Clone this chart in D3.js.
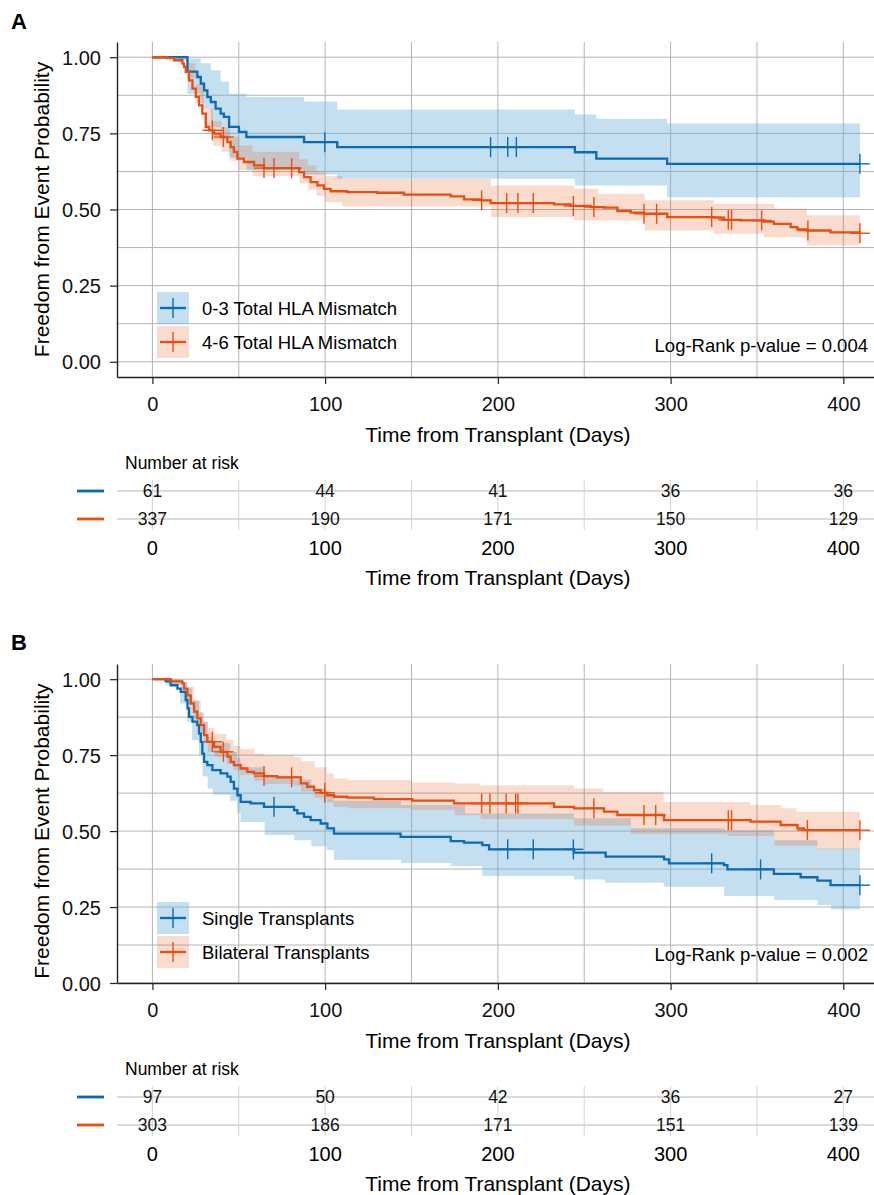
<!DOCTYPE html>
<html>
<head>
<meta charset="utf-8">
<script src="https://cdn.jsdelivr.net/npm/d3@7"></script>
<style>
body { margin: 0; background: #fff; }
svg { display: block; font-family: "Liberation Sans", Arial, Helvetica, sans-serif; }
</style>
</head>
<body>
<svg id="gfx" width="874" height="1195"></svg>
<script>
// ---- shared ticks ----
var timeTicks = [0, 100, 200, 300, 400];
var probTicks = [0, 0.25, 0.5, 0.75, 1];

// ---- panel A: HLA mismatch ----
var hlaNames = ["0-3 Total HLA Mismatch", "4-6 Total HLA Mismatch"];

var hlaLowTimes = [0, 20.3, 26, 28, 29.9, 31.8, 33.8, 36.6, 39.5, 41.4, 44.4, 50.1, 54.4, 87.8, 107, 244.6, 257, 298, 409.6];
var hlaLowSurv  = [1, 0.953, 0.935, 0.913, 0.891, 0.869, 0.853, 0.831, 0.815, 0.804, 0.771, 0.755, 0.738, 0.721, 0.705, 0.688, 0.667, 0.650, 0.650];
var hlaLowCiTimes = [0, 20.3, 28, 33.8, 39.5, 44.4, 54.4, 87.8, 107, 244.6, 257, 298, 409.6];
var hlaLowCiLo    = [1, 0.88, 0.83, 0.77, 0.73, 0.67, 0.63, 0.615, 0.601, 0.579, 0.579, 0.540, 0.540];
var hlaLowCiHi    = [1, 0.996, 0.98, 0.957, 0.92, 0.88, 0.869, 0.855, 0.828, 0.812, 0.798, 0.782, 0.782];
var hlaLowCensor  = [99.8, 195.8, 205.7, 210.7, 409.6];

var hlaHighTimes = [0, 8.7, 12.5, 17.4, 18.3, 19.3, 21.2, 23.2, 25.1, 27.0, 28.9, 30.9, 32.8, 35.7, 39.5, 43.4, 45.3, 47.2, 49.2, 53.0,
    58.8, 64.6, 84.9, 87.8, 91.6, 95.5, 99.3, 103.2, 112.9, 130.2, 145.6, 172.7, 180.4, 190, 195.8, 232.5, 242.1, 253.7, 261.4, 269.2,
    276.9, 284.6, 298.1, 325.1, 330.9, 340.6, 354.0, 359.8, 369.5, 373.4, 379.2, 392.6, 409.6];
var hlaHighSurv = [1, 0.997, 0.990, 0.979, 0.968, 0.952, 0.924, 0.897, 0.870, 0.842, 0.815, 0.771, 0.760, 0.749, 0.738, 0.721, 0.705, 0.689, 0.667, 0.656,
    0.645, 0.636, 0.623, 0.606, 0.590, 0.579, 0.568, 0.560, 0.557, 0.555, 0.549, 0.543, 0.533, 0.530, 0.521, 0.517, 0.512, 0.508, 0.506, 0.495,
    0.490, 0.486, 0.475, 0.473, 0.466, 0.464, 0.460, 0.453, 0.442, 0.435, 0.431, 0.425, 0.422];
var hlaHighCiTimes = [0, 15, 20, 25, 30, 35, 40, 45, 50, 58, 85, 90, 95, 100, 110, 196, 244, 258, 285, 325, 354, 360, 379, 409.6];
var hlaHighCiLo    = [1, 0.985, 0.93, 0.85, 0.76, 0.71, 0.69, 0.66, 0.63, 0.61, 0.585, 0.565, 0.545, 0.525, 0.51, 0.475, 0.464, 0.464, 0.431, 0.420, 0.409, 0.409, 0.382, 0.382];
var hlaHighCiHi    = [1, 1, 0.98, 0.91, 0.83, 0.79, 0.77, 0.74, 0.71, 0.69, 0.665, 0.645, 0.625, 0.61, 0.60, 0.579, 0.568, 0.552, 0.530, 0.519, 0.519, 0.503, 0.481, 0.481];
var hlaHighCensor  = [34.7, 41.1, 64.6, 70.4, 80.6, 190.6, 205.1, 211.6, 220.5, 243.7, 255.6, 284.6, 291.9, 323.8, 333.4, 335.3, 352.7, 379.5, 409.6];

var hlaRiskLow  = [61, 44, 41, 36, 36];
var hlaRiskHigh = [337, 190, 171, 150, 129];

// ---- panel B: transplant type ----
var txNames = ["Single Transplants", "Bilateral Transplants"];

var singleTimes = [0, 7.7, 10.6, 14.5, 16.4, 19.3, 20.3, 21.2, 23.2, 26.0, 27.0, 28.0, 28.9, 29.9, 31.8, 34.7, 39.5, 43.4, 45.3, 47.2,
    49.2, 51.1, 56.9, 64.6, 82.0, 83.9, 87.8, 91.6, 97.4, 101.3, 105.1, 143.7, 172.7, 180.4, 191.0, 194.9, 244.1, 262.4, 296.2, 299.1,
    330.9, 332.9, 359.8, 375.3, 385.0, 392.6, 409.6];
var singleSurv = [1, 0.993, 0.980, 0.969, 0.958, 0.931, 0.904, 0.876, 0.860, 0.849, 0.821, 0.794, 0.755, 0.728, 0.717, 0.701, 0.690, 0.679, 0.662, 0.640,
    0.618, 0.596, 0.591, 0.580, 0.569, 0.558, 0.547, 0.536, 0.525, 0.509, 0.492, 0.481, 0.467, 0.462, 0.454, 0.440, 0.429, 0.416, 0.407, 0.394,
    0.388, 0.374, 0.359, 0.348, 0.337, 0.322, 0.322];
var singleCiTimes = [0, 8, 16, 20, 23, 27, 29, 32, 35, 45, 49, 51, 65, 82, 92, 101, 105, 144, 173, 181, 191, 244, 262, 277, 296, 331, 360, 385, 393, 409.6];
var singleCiLo    = [1, 0.98, 0.92, 0.86, 0.80, 0.75, 0.68, 0.64, 0.62, 0.60, 0.56, 0.53, 0.487, 0.47, 0.45, 0.4375, 0.405, 0.395, 0.385, 0.385,
    0.352, 0.341, 0.330, 0.330, 0.317, 0.286, 0.273, 0.257, 0.242, 0.242];
var singleCiHi    = [1, 1, 0.99, 0.97, 0.93, 0.89, 0.86, 0.81, 0.79, 0.76, 0.74, 0.71, 0.68, 0.67, 0.64, 0.62, 0.60, 0.586, 0.586, 0.558,
    0.558, 0.542, 0.542, 0.509, 0.509, 0.503, 0.470, 0.443, 0.443, 0.443];
var singleCensor  = [70.4, 205.7, 220.5, 243.7, 323.8, 352.1, 409.6];

var bilatTimes = [0, 10.6, 17.4, 18.3, 20.3, 22.2, 24.1, 26.0, 28.0, 29.9, 31.8, 35.7, 39.5, 43.4, 45.3, 47.2, 51.1, 55.0, 58.8, 64.6,
    72.3, 85.9, 89.7, 93.6, 97.4, 101.3, 105.1, 112.9, 128.3, 150.5, 174.6, 232.5, 244.1, 261.4, 269.2, 296.2, 346.3, 363.7, 373.4, 377.2, 409.6];
var bilatSurv = [1, 0.993, 0.986, 0.969, 0.947, 0.920, 0.893, 0.871, 0.849, 0.816, 0.794, 0.777, 0.761, 0.745, 0.728, 0.717, 0.706, 0.695, 0.690, 0.681,
    0.677, 0.657, 0.646, 0.635, 0.626, 0.618, 0.613, 0.610, 0.605, 0.600, 0.591, 0.580, 0.575, 0.564, 0.553, 0.536, 0.531, 0.520, 0.509, 0.503, 0.503];
var bilatCiTimes = [0, 10, 18, 20, 24, 28, 30, 32, 36, 43, 47, 51, 59, 65, 82, 86, 94, 101, 105, 113, 150, 175, 190, 244, 261, 277, 296, 333, 346, 360, 364, 373, 385, 409.6];
var bilatCiLo    = [1, 0.985, 0.94, 0.92, 0.87, 0.82, 0.79, 0.76, 0.745, 0.72, 0.70, 0.685, 0.665, 0.655, 0.65, 0.63, 0.61, 0.595, 0.58, 0.575,
    0.57, 0.552, 0.54, 0.518, 0.518, 0.491, 0.491, 0.485, 0.485, 0.452, 0.452, 0.452, 0.44, 0.44];
var bilatCiHi    = [1, 1, 0.99, 0.975, 0.93, 0.89, 0.86, 0.84, 0.82, 0.80, 0.78, 0.77, 0.755, 0.75, 0.745, 0.73, 0.71, 0.69, 0.673, 0.668,
    0.66, 0.657, 0.651, 0.640, 0.629, 0.629, 0.596, 0.596, 0.586, 0.586, 0.575, 0.564, 0.564, 0.564];
var bilatCensor  = [34.7, 41.1, 64.6, 80.6, 99.8, 190.6, 195.4, 204.8, 210.3, 211.6, 255.6, 284.6, 291.4, 333.4, 335.3, 379.2, 409.6];

var txRiskSingle = [97, 50, 42, 36, 27];
var txRiskBilat  = [303, 186, 171, 151, 139];

// ---- styling ----
var blue = "#0a6ab4", orange = "#e84e10";
var fills = [{ c: "#6baed6", o: 0.4 }, { c: orange, o: 0.2 }];
var gridColor = "#b4b4b4";

function group(times, surv, ciTimes, ciLo, ciHi, censor, color) {
    return {
        pts: times.map((t, i) => [t, surv[i]]),
        ci: ciTimes.map((t, i) => [t, ciLo[i], ciHi[i]]),
        times: times, surv: surv, censor: censor, color: color
    };
}

function survAt(g, t) {
    var i = d3.bisectRight(g.times, t) - 1;
    return g.surv[Math.max(0, i)];
}

var svg = d3.select("#gfx");
var x = d3.scaleLinear().domain([-20.5, 430.5]).range([117, 896]);
var left = 117, right = 874;

function drawPanel(p) {
    var y = d3.scaleLinear().domain(p.yDomain).range([p.bottom, p.top]);
    var g = svg.append("g").attr("class", "panel");

    g.append("text").attr("x", 11).attr("y", p.labelY)
        .attr("font-size", 22).attr("font-weight", "bold").text(p.label);

    var clipId = "clip" + p.label;
    svg.append("clipPath").attr("id", clipId).append("rect")
        .attr("x", left).attr("y", p.top).attr("width", right - left).attr("height", p.bottom - p.top);

    // grid
    var grid = g.append("g").attr("class", "grid").attr("clip-path", "url(#" + clipId + ")");
    grid.selectAll("line.v").data(d3.range(0, 451, 50)).enter().append("line")
        .attr("x1", d => x(d)).attr("x2", d => x(d)).attr("y1", p.top).attr("y2", p.bottom)
        .attr("stroke", gridColor).attr("stroke-width", 1);
    grid.selectAll("line.h").data(d3.range(0, 1.01, 0.125)).enter().append("line")
        .attr("x1", left).attr("x2", right).attr("y1", d => y(d)).attr("y2", d => y(d))
        .attr("stroke", gridColor).attr("stroke-width", 1);

    var plot = g.append("g").attr("clip-path", "url(#" + clipId + ")");
    var area = d3.area().curve(d3.curveStepAfter).x(d => x(d[0])).y0(d => y(d[1])).y1(d => y(d[2]));
    var line = d3.line().curve(d3.curveStepAfter).x(d => x(d[0])).y(d => y(d[1]));

    p.groups.forEach(function(s, i) {
        plot.append("path").attr("d", area(s.ci))
            .attr("fill", fills[i].c).attr("fill-opacity", fills[i].o).attr("stroke", "none");
    });
    p.groups.forEach(function(s) {
        plot.append("path").attr("d", line(s.pts))
            .attr("fill", "none").attr("stroke", s.color).attr("stroke-width", 2.3);
        var marks = plot.selectAll(null).data(s.censor).enter().append("g")
            .attr("transform", d => "translate(" + x(d) + "," + y(survAt(s, d)) + ")");
        marks.append("line").attr("x1", -10).attr("x2", 10).attr("stroke", s.color).attr("stroke-width", 1.4);
        marks.append("line").attr("y1", -10).attr("y2", 10).attr("stroke", s.color).attr("stroke-width", 1.4);
    });

    // axes
    var xAxis = g.append("g").attr("transform", "translate(0," + p.bottom + ")")
        .call(d3.axisBottom(x).tickValues(timeTicks).tickSize(7).tickSizeOuter(0).tickPadding(13));
    var yAxis = g.append("g").attr("transform", "translate(" + left + ",0)")
        .call(d3.axisLeft(y).tickValues(probTicks).tickFormat(d3.format(".2f")).tickSize(7).tickSizeOuter(0).tickPadding(9));
    [xAxis, yAxis].forEach(function(a) {
        a.select(".domain").attr("stroke", "#222").attr("stroke-width", 1.4);
        a.selectAll(".tick line").attr("stroke", "#222").attr("stroke-width", 1.2);
        a.selectAll(".tick text").attr("font-size", 20).attr("fill", "#111")
            .attr("font-family", "Liberation Sans, Arial, Helvetica, sans-serif");
    });
    yAxis.selectAll(".tick text").attr("dy", "0.36em");

    g.append("text").attr("x", x(200)).attr("y", p.bottom + 65)
        .attr("text-anchor", "middle").attr("font-size", 21).text("Time from Transplant (Days)");
    g.append("text").attr("transform", "translate(49," + ((y(0) + y(1)) / 2) + ") rotate(-90)")
        .attr("text-anchor", "middle").attr("font-size", 21).text("Freedom from Event Probability");

    // legend
    var leg = g.append("g");
    p.names.forEach(function(name, i) {
        var ry = p.legendY + i * 34, cy = ry + 16;
        leg.append("rect").attr("x", 157).attr("y", ry).attr("width", 32).attr("height", 32)
            .attr("fill", fills[i].c).attr("fill-opacity", fills[i].o);
        leg.append("line").attr("x1", 160).attr("x2", 186).attr("y1", cy).attr("y2", cy)
            .attr("stroke", p.groups[i].color).attr("stroke-width", 2.3);
        leg.append("line").attr("x1", 173).attr("x2", 173).attr("y1", cy - 10).attr("y2", cy + 10)
            .attr("stroke", p.groups[i].color).attr("stroke-width", 1.4);
        leg.append("text").attr("x", 202).attr("y", cy + 6.5).attr("font-size", 18.5).text(name);
    });

    g.append("text").attr("x", 868).attr("y", p.pY).attr("text-anchor", "end")
        .attr("font-size", 18.5).text(p.pText);

    // number at risk table
    var rt = g.append("g");
    var row0 = p.bottom + 114;
    rt.append("text").attr("x", 125).attr("y", p.bottom + 92).attr("font-size", 17.5).text("Number at risk");
    rt.selectAll("line.rv").data(d3.range(0, 451, 50)).enter().append("line")
        .attr("x1", d => x(d)).attr("x2", d => x(d)).attr("y1", row0 - 11).attr("y2", row0 + 39)
        .attr("stroke", "#d4d4d4").attr("stroke-width", 1);
    p.risk.forEach(function(vals, i) {
        var ry = row0 + i * 28;
        rt.append("line").attr("x1", left).attr("x2", right).attr("y1", ry).attr("y2", ry)
            .attr("stroke", "#cfcfcf").attr("stroke-width", 1.6);
        rt.append("line").attr("x1", 77).attr("x2", 104).attr("y1", ry).attr("y2", ry)
            .attr("stroke", p.groups[i].color).attr("stroke-width", 2.8);
        rt.selectAll(null).data(vals).enter().append("text")
            .attr("x", (d, j) => x(timeTicks[j])).attr("y", ry + 6)
            .attr("text-anchor", "middle").attr("font-size", 17.5).attr("fill", "#111").text(d => d);
    });
    rt.selectAll(null).data(timeTicks).enter().append("text")
        .attr("x", d => x(d)).attr("y", p.bottom + 178)
        .attr("text-anchor", "middle").attr("font-size", 20).text(d => d);
    rt.append("text").attr("x", x(200)).attr("y", p.bottom + 208)
        .attr("text-anchor", "middle").attr("font-size", 21).text("Time from Transplant (Days)");
}

drawPanel({
    label: "A", labelY: 29, top: 42, bottom: 377, yDomain: [-0.05, 1.05],
    names: hlaNames, legendY: 292, pY: 352, pText: "Log-Rank p-value = 0.004",
    groups: [
        group(hlaLowTimes, hlaLowSurv, hlaLowCiTimes, hlaLowCiLo, hlaLowCiHi, hlaLowCensor, blue),
        group(hlaHighTimes, hlaHighSurv, hlaHighCiTimes, hlaHighCiLo, hlaHighCiHi, hlaHighCensor, orange)
    ],
    risk: [hlaRiskLow, hlaRiskHigh]
});

drawPanel({
    label: "B", labelY: 650, top: 664, bottom: 983, yDomain: [0, 1.05],
    names: txNames, legendY: 902, pY: 961, pText: "Log-Rank p-value = 0.002",
    groups: [
        group(singleTimes, singleSurv, singleCiTimes, singleCiLo, singleCiHi, singleCensor, blue),
        group(bilatTimes, bilatSurv, bilatCiTimes, bilatCiLo, bilatCiHi, bilatCensor, orange)
    ],
    risk: [txRiskSingle, txRiskBilat]
});
</script>
</body>
</html>
